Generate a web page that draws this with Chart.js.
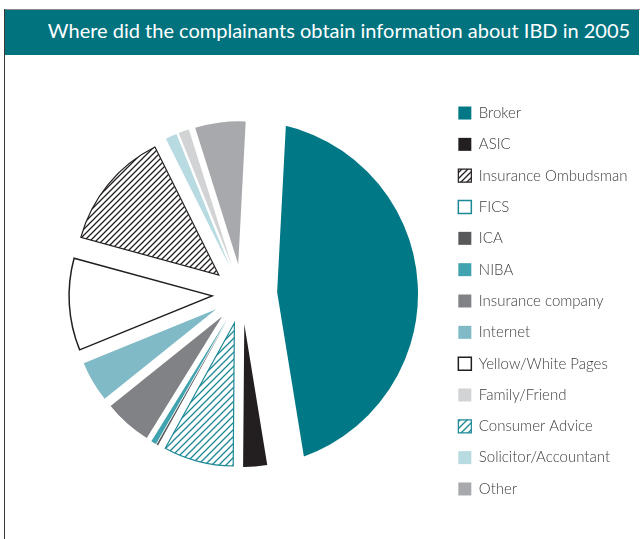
<!DOCTYPE html>
<html>
<head>
<meta charset="utf-8">
<script src="https://cdn.jsdelivr.net/npm/chart.js@4.4.1/dist/chart.umd.min.js"></script>
<style>
  html, body { margin: 0; padding: 0; background: #fff; width: 643px; height: 539px; overflow: hidden; }
  #rule-top { position: absolute; left: 4px; top: 9px; width: 636px; height: 1px; background: #8a8a8a; }
  #rule-left { position: absolute; left: 4px; top: 9px; width: 1px; height: 530px; background: #3a3a3a; }
  #header {
    position: absolute; left: 5px; top: 10px; width: 634px; height: 45px;
    background: #00737f; color: #fff; font-family: Lato, sans-serif; font-size: 20px;
    line-height: 41px; text-align: center; box-sizing: border-box; padding-left: 34px; white-space: nowrap;
  }
  #chart { position: absolute; left: 5px; top: 56px; }
</style>
</head>
<body>
<div id="rule-top"></div>
<div id="rule-left"></div>
<div id="header">Where did the complainants obtain information about IBD in 2005</div>
<canvas id="chart" width="638" height="483"></canvas>
<script>
// Slices in clockwise order, starting with Broker at the top
const categories = ['Broker', 'ASIC', 'Consumer Advice', 'FICS', 'ICA', 'NIBA', 'Insurance company',
  'Internet', 'Yellow/White Pages', 'Insurance Ombudsman', 'Solicitor/Accountant', 'Family/Friend', 'Other'];
const shares = [46.6, 2.7, 7.9, 0, 0.2, 0.6, 5.4, 4.6, 10.4, 13.4, 1.3, 1.2, 5.7];
// Order of the key on the right
const legendOrder = ['Broker', 'ASIC', 'Insurance Ombudsman', 'FICS', 'ICA', 'NIBA', 'Insurance company',
  'Internet', 'Yellow/White Pages', 'Family/Friend', 'Consumer Advice', 'Solicitor/Accountant', 'Other'];

const TEAL = '#007885';
const INK = '#231f20';

const canvas = document.getElementById('chart');
const ctx2d = canvas.getContext('2d');

function hatch(color, period, width) {
  const tile = document.createElement('canvas');
  tile.width = tile.height = period;
  const g = tile.getContext('2d');
  g.fillStyle = '#ffffff';
  g.fillRect(0, 0, period, period);
  g.strokeStyle = color;
  g.lineWidth = width;
  g.beginPath();
  g.moveTo(-1, period + 1); g.lineTo(period + 1, -1);
  g.moveTo(-1, 1); g.lineTo(1, -1);
  g.moveTo(period - 1, period + 1); g.lineTo(period + 1, period - 1);
  g.stroke();
  return ctx2d.createPattern(tile, 'repeat');
}

const blackHatch = hatch(INK, 6, 1.3);
const tealHatch = hatch('#1b8995', 7, 1.3);

const fills = [TEAL, INK, tealHatch, '#ffffff', '#58595b', '#41a3b0', '#808285',
  '#7fbac6', '#ffffff', blackHatch, '#b8dbe2', '#d1d3d4', '#a7a9ac'];
const edges = ['#ffffff', INK, '#1b8995', '#1b8995', INK, INK, INK,
  INK, INK, INK, INK, INK, INK];
const edgeWidths = [64, 0, 1.2, 1.5, 0, 0, 0, 0, 1.5, 1.2, 0, 0, 0];
const keyEdgeWidths = [0, 0, 1.2, 1.5, 0, 0, 0, 0, 1.5, 1.2, 0, 0, 0];
// Distance each slice is pulled away from the centre
const explode = [3, 30, 30, 30, 30, 30, 30, 30, 30, 30, 30, 30, 30];

const PIE_RADIUS = 143;   // radius of the pulled-out slices
const LEAD_RADIUS = 205;  // Broker is drawn larger; its wide white edge trims it back

// Pull each slice out along its own bisector and set its radius
const explodeSlices = {
  id: 'explodeSlices',
  afterDatasetsUpdate(chart) {
    chart.getDatasetMeta(0).data.forEach((arc, i) => {
      const mid = (arc.startAngle + arc.endAngle) / 2;
      arc.x += explode[i] * Math.cos(mid);
      arc.y += explode[i] * Math.sin(mid);
      arc.outerRadius = i === 0 ? LEAD_RADIUS : PIE_RADIUS;
    });
  }
};

new Chart(canvas, {
  type: 'pie',
  data: {
    labels: categories,
    datasets: [{
      data: shares,
      backgroundColor: fills,
      borderColor: edges,
      borderWidth: edgeWidths,
      borderJoinStyle: 'miter',
      borderAlign: 'center',
      spacing: 0,
      offset: 0,
      radius: PIE_RADIUS,
      clip: { left: false, top: false, bottom: false, right: 0 }
    }]
  },
  options: {
    responsive: false,
    devicePixelRatio: 1,
    animation: false,
    events: [],
    rotation: 3,
    layout: { padding: { left: 37, right: 10, top: 0, bottom: 7 } },
    plugins: {
      tooltip: { enabled: false },
      title: { display: false },
      legend: {
        position: 'right',
        maxWidth: 191,
        title: { display: true, text: '', font: { size: 14, lineHeight: 1 }, padding: 0 },
        labels: {
          boxWidth: 13,
          boxHeight: 13,
          padding: 16.33,
          color: '#3d3d3d',
          font: { family: 'Lato', size: 15, weight: 300 },
          generateLabels(chart) {
            const items = Chart.overrides.doughnut.plugins.legend.labels.generateLabels(chart);
            items.forEach((it) => {
              it.lineWidth = keyEdgeWidths[it.index];
              it.strokeStyle = edges[it.index];
            });
            return items;
          },
          sort: (a, b) => legendOrder.indexOf(a.text) - legendOrder.indexOf(b.text)
        }
      }
    }
  },
  plugins: [explodeSlices]
});
</script>
</body>
</html>
